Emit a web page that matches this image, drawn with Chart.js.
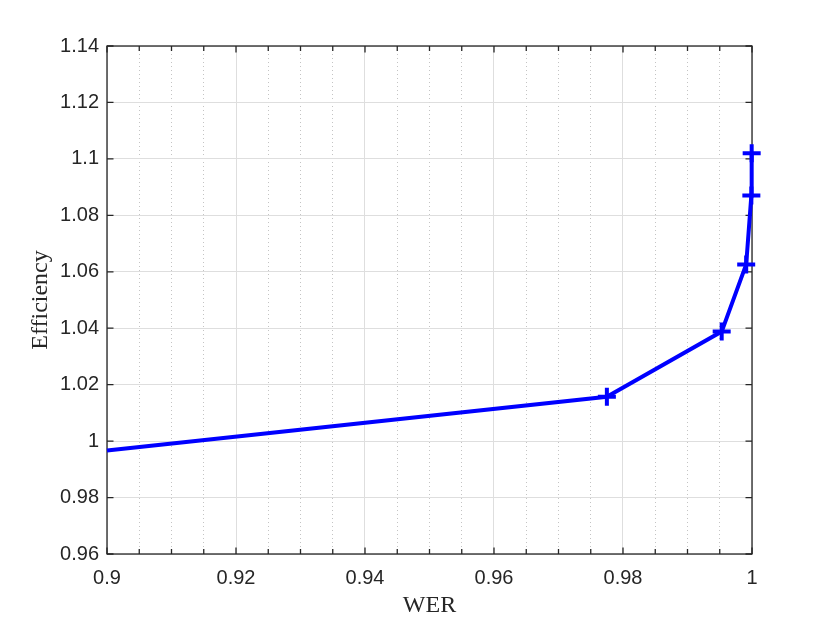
<!DOCTYPE html>
<html>
<head>
<meta charset="utf-8">
<script src="https://cdn.jsdelivr.net/npm/chart.js@4"></script>
<style>
  html, body { margin: 0; padding: 0; background: #fff; }
</style>
</head>
<body>
<canvas id="chart" width="831" height="626"></canvas>
<script>
// data
const werValues = [0.9, 0.9775, 0.9953, 0.9991, 0.9999, 0.99995];
const efficiencyValues = [0.9967, 1.0157, 1.0388, 1.0626, 1.087, 1.102];
const markerSizes = [0, 9, 9, 9, 9, 9];

const xTicks = [0.9, 0.92, 0.94, 0.96, 0.98, 1];
const yTicks = [0.96, 0.98, 1, 1.02, 1.04, 1.06, 1.08, 1.1, 1.12, 1.14];
const xMinorStep = 0.005;

const axisColor = "#262626";

function fmt(v) {
    return String(Number(v.toFixed(2)));
}

function isMajor(v) {
    return xTicks.some(t => Math.abs(t - v) < 1e-6);
}

/* =========================
   BOX + INWARD TICKS
========================= */
const matlabBox = {
    id: "matlabBox",
    beforeDatasetsDraw(chart) {
        const { ctx, chartArea: a, scales } = chart;
        ctx.save();
        ctx.strokeStyle = axisColor;
        ctx.lineWidth = 1.3;
        ctx.strokeRect(a.left, a.top, a.right - a.left, a.bottom - a.top);

        ctx.beginPath();
        scales.xMinor.ticks.forEach(t => {
            const px = scales.xMinor.getPixelForValue(t.value);
            const len = isMajor(t.value) ? 6.5 : 5;
            ctx.moveTo(px, a.bottom);
            ctx.lineTo(px, a.bottom - len);
            ctx.moveTo(px, a.top);
            ctx.lineTo(px, a.top + len);
        });
        scales.y.ticks.forEach(t => {
            const py = scales.y.getPixelForValue(t.value);
            ctx.moveTo(a.left, py);
            ctx.lineTo(a.left + 6.5, py);
            ctx.moveTo(a.right, py);
            ctx.lineTo(a.right - 6.5, py);
        });
        ctx.stroke();
        ctx.restore();
    }
};

const tickFont = { family: "Liberation Sans, Arial, sans-serif", size: 20 };
const titleFont = { family: "Liberation Serif, Times New Roman, serif", size: 24 };

new Chart(document.getElementById("chart").getContext("2d"), {
    type: "scatter",
    data: {
        datasets: [{
            data: werValues.map((x, i) => ({ x: x, y: efficiencyValues[i] })),
            showLine: true,
            borderColor: "#0000ff",
            borderWidth: 4,
            tension: 0,
            pointStyle: "cross",
            pointRadius: markerSizes,
            pointBorderColor: "#0000ff",
            pointBorderWidth: 4,
            clip: false
        }]
    },
    options: {
        responsive: false,
        animation: false,
        layout: { padding: { top: 46, right: 79, left: 0, bottom: 0 } },
        plugins: {
            legend: { display: false },
            tooltip: { enabled: false }
        },
        scales: {
            x: {
                type: "linear",
                position: "bottom",
                min: 0.9,
                max: 1,
                afterBuildTicks: s => { s.ticks = xTicks.map(v => ({ value: v })); },
                afterFit: s => { s.height = 72; },
                ticks: {
                    callback: v => fmt(v),
                    font: tickFont,
                    color: axisColor,
                    padding: 12,
                    autoSkip: false,
                    maxRotation: 0
                },
                grid: { color: "#dedede", lineWidth: 1, drawTicks: false },
                border: { display: false },
                title: {
                    display: true,
                    text: "WER",
                    font: titleFont,
                    color: axisColor,
                    padding: { top: 0, bottom: 6 }
                }
            },
            xMinor: {
                type: "linear",
                position: "bottom",
                min: 0.9,
                max: 1,
                afterFit: s => { s.height = 0; },
                ticks: { stepSize: xMinorStep, maxTicksLimit: 50, display: false },
                grid: {
                    color: c => isMajor(c.tick.value) ? "rgba(0,0,0,0)" : "#c4c4c4",
                    lineWidth: 1,
                    drawTicks: false
                },
                border: { display: false, dash: [1, 3] }
            },
            y: {
                type: "linear",
                min: 0.96,
                max: 1.14,
                afterBuildTicks: s => { s.ticks = yTicks.map(v => ({ value: v })); },
                afterFit: s => { s.width = 107; },
                ticks: {
                    callback: v => fmt(v),
                    font: tickFont,
                    color: axisColor,
                    padding: 8
                },
                grid: { color: "#dedede", lineWidth: 1, drawTicks: false },
                border: { display: false },
                title: {
                    display: true,
                    text: "Efficiency",
                    font: titleFont,
                    color: axisColor,
                    padding: { top: 26, bottom: 0 }
                }
            }
        }
    },
    plugins: [matlabBox]
});
</script>
</body>
</html>
